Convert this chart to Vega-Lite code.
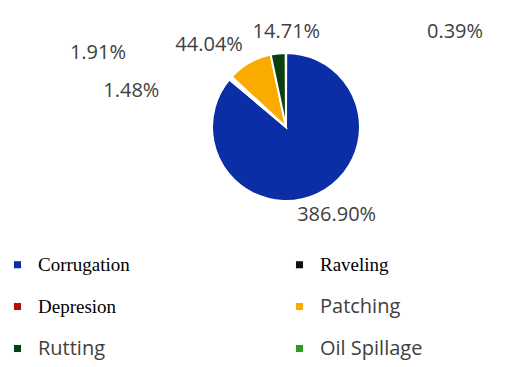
{
  "$schema": "https://vega.github.io/schema/vega-lite/v6.json",
  "width": 472,
  "height": 254,
  "autosize": {"type": "none"},
  "padding": {"left": 50, "top": 0, "right": 0, "bottom": 113},
  "background": "white",
  "config": {"view": {"stroke": null}},
  "data": {
    "values": [
      {"category": "Corrugation", "value": 386.90, "order": 1},
      {"category": "Raveling", "value": 1.48, "order": 2},
      {"category": "Depresion", "value": 1.91, "order": 3},
      {"category": "Patching", "value": 44.04, "order": 4},
      {"category": "Rutting", "value": 14.71, "order": 5},
      {"category": "Oil Spillage", "value": 0.39, "order": 6}
    ]
  },
  "transform": [
    {"stack": "value", "groupby": [], "sort": [{"field": "order", "order": "ascending"}], "as": ["start", "end"]},
    {"calculate": "(datum.start + datum.end) / 2", "as": "mid"},
    {"calculate": "format(datum.value, '.2f') + '%'", "as": "label"}
  ],
  "layer": [
    {
      "mark": {"type": "arc", "outerRadius": 74, "stroke": "white", "strokeWidth": 2},
      "encoding": {
        "theta": {"field": "start", "type": "quantitative"},
        "theta2": {"field": "end"},
        "color": {
          "field": "category",
          "type": "nominal",
          "sort": ["Corrugation", "Raveling", "Depresion", "Patching", "Rutting", "Oil Spillage"],
          "scale": {
            "domain": ["Corrugation", "Raveling", "Depresion", "Patching", "Rutting", "Oil Spillage"],
            "range": ["#0B2DA6", "#111111", "#B01010", "#FBAA00", "#0A3F10", "#2B9A27"]
          },
          "legend": {
            "orient": "none",
            "direction": "horizontal",
            "legendX": -42,
            "legendY": 255,
            "columns": 2,
            "title": null,
            "padding": 0,
            "symbolType": "square",
            "symbolSize": 50,
            "symbolStrokeWidth": 0,
            "labelOffset": 11,
            "labelLimit": 300,
            "rowPadding": 21,
            "columnPadding": 160,
            "labelFont": {"expr": "indexof(['Patching','Rutting','Oil Spillage'], datum.label) >= 0 ? 'Open Sans' : 'Liberation Serif'"},
            "labelFontSize": {"expr": "indexof(['Patching','Rutting','Oil Spillage'], datum.label) >= 0 ? 20 : 19"},
            "labelColor": {"expr": "indexof(['Patching','Rutting','Oil Spillage'], datum.label) >= 0 ? '#404040' : '#000000'"}
          }
        }
      }
    },
    {
      "transform": [{"filter": "datum.category === 'Corrugation'"}],
      "mark": {"type": "text", "radius": 101, "dx": 8, "dy": -4, "font": "Open Sans", "fontSize": 20, "color": "#404040"},
      "encoding": {"theta": {"field": "mid", "type": "quantitative"}, "text": {"field": "label"}}
    },
    {
      "transform": [{"filter": "datum.category === 'Patching'"}],
      "mark": {"type": "text", "radius": 101, "dx": -27, "dy": 6, "font": "Open Sans", "fontSize": 20, "color": "#404040"},
      "encoding": {"theta": {"field": "mid", "type": "quantitative"}, "text": {"field": "label"}}
    },
    {
      "transform": [{"filter": "datum.category === 'Rutting'"}],
      "mark": {"type": "text", "radius": 101, "dx": 11, "dy": 5, "font": "Open Sans", "fontSize": 20, "color": "#404040"},
      "encoding": {"theta": {"field": "mid", "type": "quantitative"}, "text": {"field": "label"}}
    },
    {
      "transform": [{"filter": "datum.category === 'Oil Spillage'"}],
      "mark": {"type": "text", "radius": 101, "dx": 169, "dy": 6, "font": "Open Sans", "fontSize": 20, "color": "#404040"},
      "encoding": {"theta": {"field": "mid", "type": "quantitative"}, "text": {"field": "label"}}
    },
    {
      "transform": [{"filter": "datum.category === 'Raveling'"}],
      "mark": {"type": "text", "radius": 101, "dx": -78, "dy": 30, "font": "Open Sans", "fontSize": 20, "color": "#404040"},
      "encoding": {"theta": {"field": "mid", "type": "quantitative"}, "text": {"field": "label"}}
    },
    {
      "transform": [{"filter": "datum.category === 'Depresion'"}],
      "mark": {"type": "text", "radius": 101, "dx": -113, "dy": -6, "font": "Open Sans", "fontSize": 20, "color": "#404040"},
      "encoding": {"theta": {"field": "mid", "type": "quantitative"}, "text": {"field": "label"}}
    }
  ]
}
